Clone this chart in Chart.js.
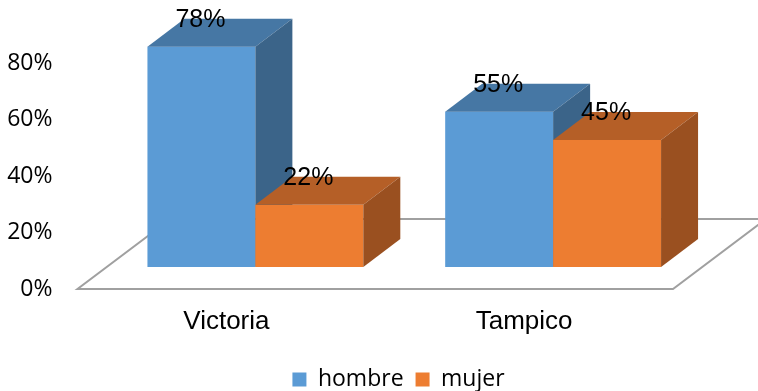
<!DOCTYPE html>
<html>
<head>
<meta charset="utf-8">
<script src="https://cdn.jsdelivr.net/npm/chart.js@4/dist/chart.umd.min.js"></script>
<style>
  html, body { margin: 0; padding: 0; background: #fff; }
  #wrap { width: 758px; height: 391px; }
</style>
</head>
<body>
<div id="wrap"><canvas id="myChart"></canvas></div>
<script>
// datos
const ciudades = ['Victoria', 'Tampico']
const hombre = [78, 55]
const mujer = [22, 45]
const series = ['hombre', 'mujer']

// colores: frente, arriba, lado
const caras = [
    { front: '#5b9bd5', top: '#4677a4', side: '#3b6489' },
    { front: '#ed7d31', top: '#b55f27', side: '#9a5020' }
]

// desplazamientos de la perspectiva
const barShift = { x: 29, y: -22 }
const barDepth = { x: 37, y: -28 }
const floorDepth = { x: 93, y: -70 }
const legendShift = 62

const piso3d = {
    id: 'piso3d',
    beforeDatasetsDraw(chart) {
        const { ctx, chartArea } = chart
        const y0 = chart.scales.y.getPixelForValue(0)
        ctx.save()
        ctx.strokeStyle = '#a0a0a0'
        ctx.lineWidth = 2
        ctx.beginPath()
        ctx.moveTo(chartArea.left, y0)
        ctx.lineTo(chartArea.right, y0)
        ctx.lineTo(chartArea.right + floorDepth.x, y0 + floorDepth.y)
        ctx.lineTo(chartArea.left + floorDepth.x, y0 + floorDepth.y)
        ctx.closePath()
        ctx.stroke()
        ctx.restore()
    }
}

const barras3d = {
    id: 'barras3d',
    afterDatasetsDraw(chart) {
        const { ctx } = chart
        const n = chart.data.labels.length
        // de izquierda a derecha, cada serie encima de la anterior
        for (let i = 0; i < n; i++) {
            chart.data.datasets.forEach((ds, d) => {
                const bar = chart.getDatasetMeta(d).data[i]
                const c = caras[d]
                const l = bar.x - bar.width / 2 + barShift.x
                const r = bar.x + bar.width / 2 + barShift.x
                const t = bar.y + barShift.y
                const b = bar.base + barShift.y
                ctx.save()
                ctx.fillStyle = c.front
                ctx.fillRect(l, t, r - l, b - t)
                ctx.fillStyle = c.top
                ctx.beginPath()
                ctx.moveTo(l, t)
                ctx.lineTo(l + barDepth.x, t + barDepth.y)
                ctx.lineTo(r + barDepth.x, t + barDepth.y)
                ctx.lineTo(r, t)
                ctx.closePath()
                ctx.fill()
                ctx.fillStyle = c.side
                ctx.beginPath()
                ctx.moveTo(r, t)
                ctx.lineTo(r + barDepth.x, t + barDepth.y)
                ctx.lineTo(r + barDepth.x, b + barDepth.y)
                ctx.lineTo(r, b)
                ctx.closePath()
                ctx.fill()
                ctx.restore()
            })
        }
        // etiquetas de datos
        ctx.save()
        ctx.font = '25px "Liberation Sans", Arial, sans-serif'
        ctx.fillStyle = '#000'
        ctx.textAlign = 'center'
        ctx.textBaseline = 'middle'
        chart.data.datasets.forEach((ds, d) => {
            chart.getDatasetMeta(d).data.forEach((bar, i) => {
                ctx.fillText(ds.data[i] + '%', bar.x + barShift.x - 1, bar.y + barShift.y - 27)
            })
        })
        ctx.restore()
    }
}

// la leyenda va centrada en todo el ancho, no sólo en el área del gráfico
const moverLeyenda = {
    id: 'moverLeyenda',
    afterLayout(chart) {
        chart.legend.left += legendShift
        chart.legend.right += legendShift
    }
}

const ctx = document.getElementById('myChart').getContext('2d')
const myChart = new Chart(ctx, {
    type: 'bar',
    data: {
        labels: ciudades,
        datasets: [
            // las barras planas quedan transparentes: el plugin dibuja las 3D
            { label: series[0], data: hombre, backgroundColor: 'rgba(0,0,0,0)' },
            { label: series[1], data: mujer, backgroundColor: 'rgba(0,0,0,0)' }
        ]
    },
    options: {
        responsive: true,
        maintainAspectRatio: false,
        animation: false,
        categoryPercentage: 0.725,
        barPercentage: 1,
        layout: {
            autoPadding: false,
            padding: { left: 0, right: 85, top: 6.5, bottom: -10 }
        },
        scales: {
            x: {
                grid: { display: false, drawTicks: false },
                border: { display: false },
                afterFit(scale) {
                    scale.height = 67
                },
                ticks: {
                    color: '#000',
                    padding: 17,
                    font: { family: '"Liberation Sans", Arial, sans-serif', size: 26 }
                }
            },
            y: {
                min: 0,
                max: 100,
                grid: { display: false, drawTicks: false },
                border: { display: false },
                afterBuildTicks(scale) {
                    scale.ticks = scale.ticks.filter(t => t.value <= 80)
                },
                afterFit(scale) {
                    scale.width = 77.5
                    // el padding de las etiquetas no debe comerse el alto
                    scale.paddingTop = 0
                    scale.paddingBottom = 0
                },
                ticks: {
                    stepSize: 20,
                    color: '#000',
                    padding: 25,
                    font: { family: '"Open Sans", sans-serif', size: 23 },
                    callback: v => v + '%'
                }
            }
        },
        plugins: {
            tooltip: { enabled: false },
            legend: {
                position: 'bottom',
                labels: {
                    boxWidth: 14,
                    boxHeight: 14,
                    padding: 12,
                    color: '#000',
                    font: { family: '"Open Sans", sans-serif', size: 23 },
                    generateLabels(chart) {
                        return chart.data.datasets.map((ds, d) => ({
                            text: ds.label,
                            fillStyle: caras[d].front,
                            strokeStyle: caras[d].front,
                            lineWidth: 0,
                            fontColor: '#000',
                            datasetIndex: d
                        }))
                    }
                }
            }
        }
    },
    plugins: [piso3d, barras3d, moverLeyenda]
})
</script>
</body>
</html>
